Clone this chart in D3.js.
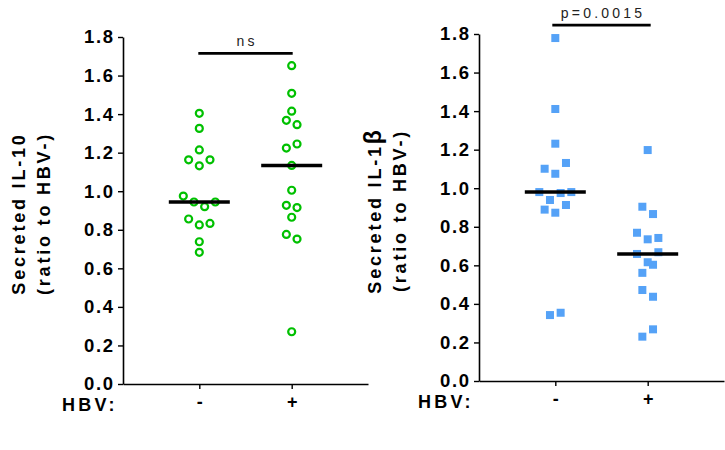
<!DOCTYPE html>
<html><head><meta charset="utf-8">
<script src="https://cdn.jsdelivr.net/npm/d3@7"></script>
<style>body{margin:0;background:#fff}svg{display:block}</style>
</head><body>
<svg id="chart" width="725" height="450"></svg>
<script>
// ---- data ----
const groups = ["-", "+"];
const yTicks = [0, 0.2, 0.4, 0.6, 0.8, 1.0, 1.2, 1.4, 1.6, 1.8];
const il10Neg = [1.404, 1.326, 1.214, 1.163, 1.132, 1.163, 0.975, 0.944, 0.920, 0.944, 0.856, 0.825, 0.833, 0.738, 0.683];
const il10Pos = [1.651, 1.508, 1.415, 1.368, 1.345, 1.224, 1.245, 1.134, 1.005, 0.927, 0.915, 0.865, 0.776, 0.752, 0.271];
const il1bNeg = [1.779, 1.411, 1.231, 1.101, 1.075, 1.131, 0.980, 0.939, 0.975, 0.980, 0.889, 0.873, 0.913, 0.342, 0.354];
const il1bPos = [1.198, 0.904, 0.866, 0.769, 0.735, 0.742, 0.659, 0.616, 0.668, 0.561, 0.603, 0.472, 0.437, 0.230, 0.268];
const titles = [["Secreted IL-10", "(ratio to HBV-)"], ["Secreted IL-1", "(ratio to HBV-)"]];
const titleSuffix = ["", "\u03B2"];
const sigLabels = ["ns", "p=0.0015"];
const sigLevels = [1.715, 1.846];
const xTitle = "HBV:";

const svg = d3.select("#chart");
const FONT = "'Liberation Sans', Arial, sans-serif";

function swarm(vals, y, step, gap, span) {
  const idx = vals.map((v, i) => i).sort((a, b) => (y(vals[a]) - y(vals[b])) || (a - b));
  const off = new Array(vals.length).fill(0);
  let row = [], start = 0, prev = 0;
  const flush = () => {
    const r = row.slice().sort((a, b) => a - b);
    r.forEach((k, i) => off[k] = (i - (r.length - 1) / 2) * step);
  };
  idx.forEach(k => {
    const p = y(vals[k]);
    if (row.length && (p - prev > gap || p - start > span)) { flush(); row = []; }
    if (!row.length) start = p;
    row.push(k); prev = p;
  });
  flush();
  return off;
}

function panel(cfg) {
  const g = svg.append("g");
  const x = d3.scalePoint().domain(groups).range([cfg.x0, cfg.x1]).padding(0.826);
  const y = d3.scaleLinear().domain([0, 1.8]).range([cfg.yb, cfg.yt]);

  // y axis
  const ya = g.append("g").attr("transform", `translate(${cfg.x0},0)`)
    .call(d3.axisLeft(y).tickValues(yTicks).tickFormat(d3.format(".1f")).tickSize(5).tickSizeOuter(0).tickPadding(5));
  ya.select(".domain").attr("stroke", "#000").attr("stroke-width", 1.6);
  ya.selectAll(".tick line").attr("stroke", "#000").attr("stroke-width", 1.4);
  ya.selectAll(".tick text").attr("font-family", FONT).attr("font-weight", "bold")
    .attr("font-size", 18.5).attr("letter-spacing", 1.6).attr("dx", 1.6).attr("fill", "#000");

  // x axis
  const xa = g.append("g").attr("transform", `translate(0,${cfg.yb})`)
    .call(d3.axisBottom(x).tickSize(5).tickSizeOuter(0).tickPadding(6));
  xa.select(".domain").attr("stroke", "#000").attr("stroke-width", 1.6);
  xa.selectAll(".tick line").attr("stroke", "#000").attr("stroke-width", 1.4);
  xa.selectAll(".tick text").attr("font-family", FONT).attr("font-weight", "bold")
    .attr("font-size", 18).attr("fill", "#000");

  g.append("text").attr("x", cfg.hbvX).attr("y", cfg.yb + 26.5)
    .attr("font-family", FONT).attr("font-weight", "bold").attr("font-size", 18)
    .attr("letter-spacing", 3.2).text(xTitle);

  // y title
  const t = g.append("text").attr("transform", `translate(${cfg.titleX},${(cfg.yb + cfg.yt) / 2 + 3}) rotate(-90)`)
    .attr("text-anchor", "middle").attr("font-family", FONT).attr("font-weight", "bold")
    .attr("font-size", 18).attr("letter-spacing", 2.8);
  const l1 = t.append("tspan").attr("x", 0).attr("y", 0).text(cfg.title[0]);
  if (cfg.suffix) l1.append("tspan").attr("font-size", 23).attr("font-weight", "900").text(cfg.suffix);
  t.append("tspan").attr("x", 0).attr("y", 25).text(cfg.title[1]);

  // points
  cfg.series.forEach((vals, gi) => {
    const off = swarm(vals, y, 10.67, 8.5, 11.5);
    const cx0 = x(groups[gi]);
    if (cfg.shape === "circle") {
      g.selectAll(null).data(vals).enter().append("circle")
        .attr("cx", (d, i) => cx0 + off[i]).attr("cy", d => y(d)).attr("r", 3.5)
        .attr("fill", "none").attr("stroke", cfg.color).attr("stroke-width", 2.2);
    } else {
      g.selectAll(null).data(vals).enter().append("rect")
        .attr("x", (d, i) => cx0 + off[i] - 4).attr("y", d => y(d) - 4)
        .attr("width", 8).attr("height", 8).attr("fill", cfg.color);
    }
  });
  // medians
  cfg.series.forEach((vals, gi) => {
    const m = d3.median(vals);
    g.append("line").attr("x1", x(groups[gi]) - 30.5).attr("x2", x(groups[gi]) + 30.5)
      .attr("y1", y(m)).attr("y2", y(m)).attr("stroke", "#000").attr("stroke-width", 3.5);
  });
  // significance
  const sy = y(cfg.sigLevel);
  g.append("line").attr("x1", x(groups[0]) - cfg.sigPad).attr("x2", x(groups[1]) + cfg.sigPad)
    .attr("y1", sy).attr("y2", sy).attr("stroke", "#000").attr("stroke-width", 2.6);
  g.append("text").attr("x", (x(groups[0]) + x(groups[1])) / 2 + 1.5).attr("y", sy - 7)
    .attr("text-anchor", "middle").attr("font-family", FONT).attr("font-size", 14)
    .attr("letter-spacing", cfg.sigLS).attr("fill", "#222").text(cfg.sigText);
}

panel({x0: 123, x1: 368, yb: 384, yt: 37, hbvX: 62, titleX: 25, title: titles[0], suffix: titleSuffix[0],
  series: [il10Neg, il10Pos], shape: "circle", color: "#00c000",
  sigLevel: sigLevels[0], sigText: sigLabels[0], sigPad: 1, sigLS: 3});
panel({x0: 479, x1: 724, yb: 381, yt: 34, hbvX: 418, titleX: 381, title: titles[1], suffix: titleSuffix[1],
  series: [il1bNeg, il1bPos], shape: "square", color: "#55a2f7",
  sigLevel: sigLevels[1], sigText: sigLabels[1], sigPad: 3, sigLS: 3.2});
</script>
</body></html>
